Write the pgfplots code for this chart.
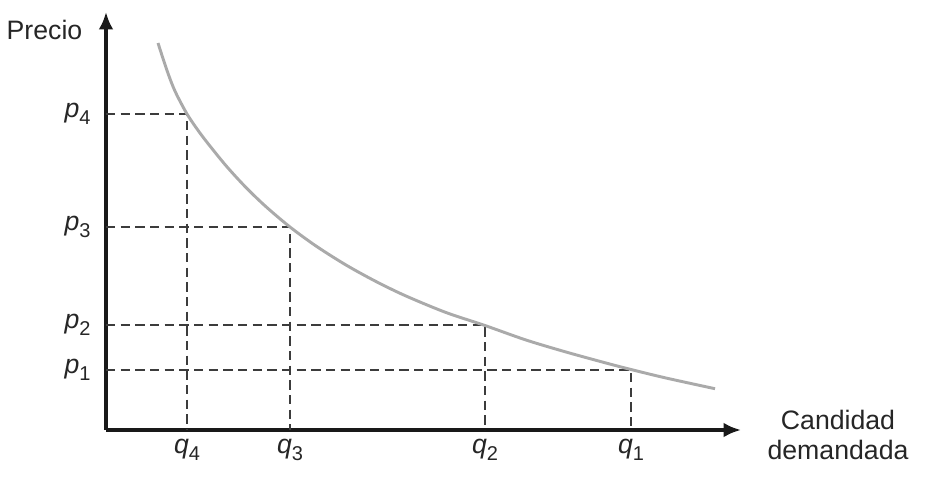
\documentclass[border=0pt]{standalone}
\usepackage{pgfplots}
\pgfplotsset{compat=1.18}
\usepackage{fontspec}
\setmainfont{Liberation Sans}
\usetikzlibrary{arrows.meta}
\definecolor{curvegray}{RGB}{170,170,170}
\definecolor{dashgray}{RGB}{60,60,60}
\newcommand{\sub}[1]{\raisebox{-0.28em}{\fontsize{15}{15}\selectfont #1}}
\begin{document}
\begin{tikzpicture}
\begin{axis}[
  scale only axis,
  width=476.25pt, height=313.5pt,
  xmin=0, xmax=635, ymin=0, ymax=418,
  axis lines=left,
  axis line style={line width=3pt, black!90, -{Latex[length=13pt,width=11pt]}},
  clip=false,
  major tick length=0pt,
  xtick={81,184,379,525},
  xticklabels={\textit{q}\sub{4},\textit{q}\sub{3},\textit{q}\sub{2},\textit{q}\sub{1}},
  ytick={60,105,203,316},
  yticklabels={\textit{p}\sub{1},\textit{p}\sub{2},\textit{p}\sub{3},\textit{p}\sub{4}},
  ticklabel style={font=\fontsize{20}{23}\selectfont, text=black!85},
  xticklabel style={yshift=-3pt},
  yticklabel style={xshift=-8pt},
]
% dashed guides
\addplot[dashgray, line width=0.8pt, dash pattern=on 7pt off 4pt] coordinates {(0,316) (81,316) (81,0)};
\addplot[dashgray, line width=0.8pt, dash pattern=on 7pt off 4pt] coordinates {(0,203) (184,203) (184,0)};
\addplot[dashgray, line width=0.8pt, dash pattern=on 7pt off 4pt] coordinates {(0,105) (379,105) (379,0)};
\addplot[dashgray, line width=0.8pt, dash pattern=on 7pt off 4pt] coordinates {(0,60) (525,60) (525,0)};
% demand curve
\addplot[curvegray, line width=2.2pt, smooth] coordinates {
(52,387) (57,371.5) (62,356.7) (67,343.5) (72,332.7) (81,316) (90,302.5)
(100,289) (120,264.3) (140,242.5) (160,223.3) (184,203) (210,184) (240,165)
(270,148.5) (300,134) (340,117.5) (379,104.5) (420,90) (460,78) (500,67)
(525,60.5) (560,52) (609,41.3)};
\node[anchor=east, font=\fontsize{20}{23}\selectfont, text=black!85] at (axis cs:-19,400) {Precio};
\node[align=center, font=\fontsize{20}{22.5}\selectfont, text=black!85] at (axis cs:732,-5) {Candidad\\demandada};
\path (axis cs:-106,-46) rectangle (axis cs:824,430);
\end{axis}
\end{tikzpicture}
\end{document}
